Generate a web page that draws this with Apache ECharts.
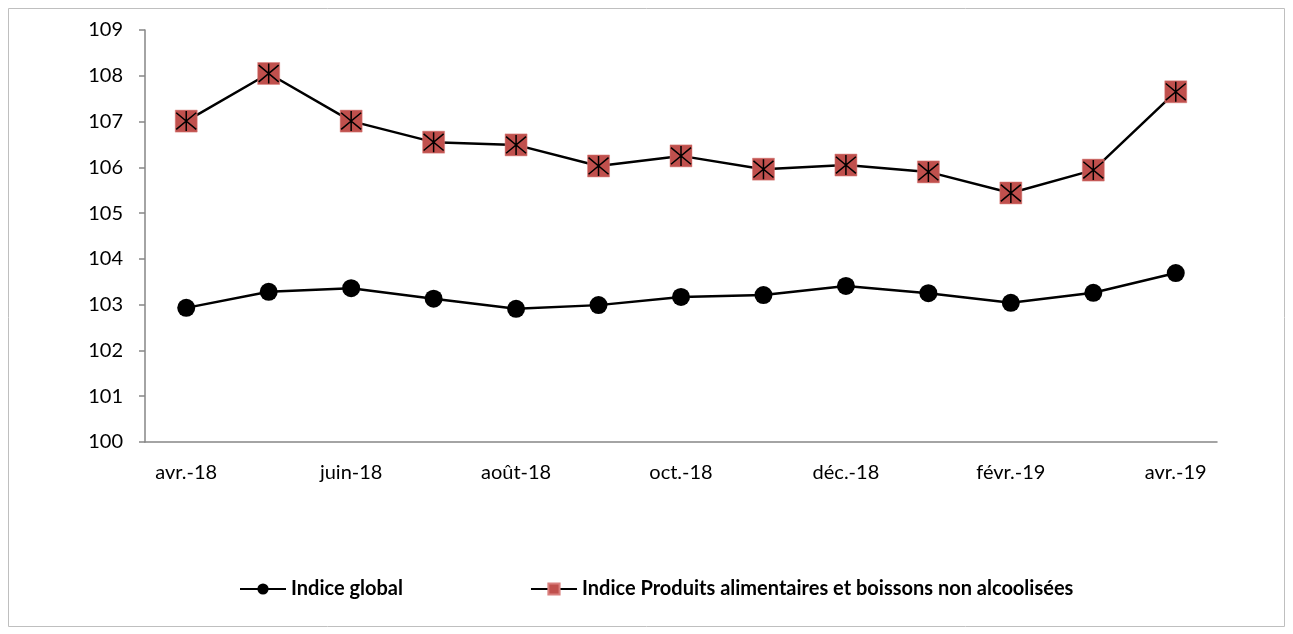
<!DOCTYPE html>
<html><head><meta charset="utf-8">
<script src="https://cdn.jsdelivr.net/npm/echarts@6/dist/echarts.min.js"></script>
<style>html,body{margin:0;padding:0;background:#fff}#c{width:1293px;height:634px}</style>
</head><body><div id="c"></div>
<script>
const categories = ['avr.-18','mai-18','juin-18','juil.-18','août-18','sept.-18','oct.-18','nov.-18','déc.-18','janv.-19','févr.-19','mars-19','avr.-19'];
const indiceGlobal = [102.93,103.28,103.36,103.13,102.91,102.99,103.17,103.21,103.41,103.25,103.04,103.26,103.69];
const indiceAlim = [107.01,108.05,107.01,106.55,106.49,106.03,106.25,105.96,106.05,105.90,105.44,105.94,107.65];
const seriesNames = ['Indice global','Indice Produits alimentaires et boissons non alcoolisées'];
const yTicks = {min:100, max:109, interval:1};

const font = 'Lato, "Open Sans", sans-serif';
const chart = echarts.init(document.getElementById('c'));
chart.setOption({
  animation:false,
  backgroundColor:'#fff',
  graphic:[{type:'rect',shape:{x:8.5,y:8.5,width:1276,height:618},style:{fill:'none',stroke:'#bfbfbf',lineWidth:1}}],
  grid:{left:145,right:76,top:30,bottom:192},
  legend:{
    data:[seriesNames[0],seriesNames[1]],
    left:234, top:574, itemWidth:46, itemHeight:14, itemGap:127,
    textStyle:{fontFamily:font,fontWeight:'bold',fontSize:20,color:'#000'}
  },
  xAxis:{
    type:'category', data:categories, boundaryGap:true,
    axisLine:{lineStyle:{color:'#868686',width:1.5}},
    axisTick:{interval:1,length:6,lineStyle:{color:'#868686',width:1.5}},
    axisLabel:{interval:1,margin:21,fontFamily:font,fontSize:20,color:'#000'},
    splitLine:{show:false}
  },
  yAxis:{
    type:'value', min:yTicks.min, max:yTicks.max, interval:yTicks.interval,
    axisLine:{show:true,lineStyle:{color:'#868686',width:1.5}},
    axisTick:{show:true,length:6,lineStyle:{color:'#868686',width:1.5}},
    axisLabel:{margin:22,fontFamily:font,fontSize:20,color:'#000'},
    splitLine:{show:false}
  },
  series:[
    {name:seriesNames[0],type:'line',data:indiceGlobal,symbol:'circle',symbolSize:18,
     lineStyle:{color:'#000',width:2.5},itemStyle:{color:'#000'}},
    {name:seriesNames[1],type:'line',data:indiceAlim,symbol:'rect',symbolSize:22,
     lineStyle:{color:'#000',width:2.5},itemStyle:{color:'#c0504d',borderColor:'#d9807e',borderWidth:0.5}},
    {name:'_ast',type:'line',data:indiceAlim,symbol:'path://M0,0 L10,10 M10,0 L0,10 M5,-1 L5,11',symbolSize:20,
     lineStyle:{width:0},itemStyle:{color:'none',borderColor:'#000',borderWidth:1.5},z:5}
  ]
});
</script></body></html>
